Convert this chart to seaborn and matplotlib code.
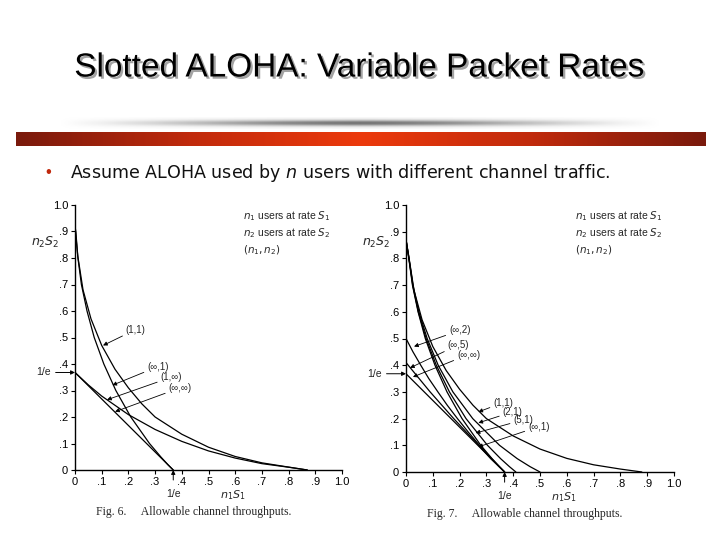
"""
Slotted ALOHA: variable packet rates (two throughput figures on one slide).
"""

import numpy as np
import matplotlib
matplotlib.use("Agg")
import matplotlib.pyplot as plt
import matplotlib.patheffects as pe
from matplotlib.colors import LinearSegmentedColormap
import seaborn as sns

# ---- data ----
# Fig. 6
f6_11_x = [0.0, 0.01, 0.03, 0.06, 0.10, 0.15, 0.20, 0.25, 0.30, 0.40, 0.50, 0.60, 0.70, 0.80, 0.87]
f6_11_y = [0.92, 0.81, 0.68, 0.57, 0.47, 0.38, 0.31, 0.25, 0.20, 0.135, 0.086, 0.051, 0.027, 0.011, 0.0]
f6_inf1_x = [0.0, 0.003, 0.011, 0.024, 0.045, 0.072, 0.108, 0.153, 0.209, 0.279, 0.321, 0.348, 0.368]
f6_inf1_y = [0.92, 0.90, 0.80, 0.70, 0.60, 0.50, 0.40, 0.30, 0.20, 0.10, 0.05, 0.02, 0.0]
f6_1inf_x = [0.0, 0.05, 0.10, 0.20, 0.30, 0.40, 0.50, 0.60, 0.70, 0.80, 0.87]
f6_1inf_y = [0.368, 0.321, 0.279, 0.209, 0.153, 0.108, 0.072, 0.045, 0.024, 0.0105, 0.0]
infinf_x = [0.0, 0.368]
infinf_y = [0.368, 0.0]

# Fig. 7
f7_11_x = [0.0, 0.01, 0.03, 0.06, 0.10, 0.15, 0.20, 0.25, 0.30, 0.40, 0.50, 0.60, 0.70, 0.80, 0.88]
f7_11_y = [0.87, 0.81, 0.68, 0.57, 0.47, 0.38, 0.31, 0.25, 0.20, 0.135, 0.086, 0.051, 0.027, 0.011, 0.0]
f7_grid_y = [0.87, 0.80, 0.70, 0.60, 0.50, 0.40, 0.30, 0.20, 0.10, 0.05, 0.02, 0.0]
f7_21_x = [0.0, 0.011, 0.026, 0.048, 0.079, 0.120, 0.175, 0.249, 0.349, 0.415, 0.463, 0.50]
f7_51_x = [0.0, 0.011, 0.025, 0.046, 0.075, 0.113, 0.162, 0.224, 0.304, 0.353, 0.386, 0.41]
f7_inf1_x = [0.0, 0.0105, 0.024, 0.045, 0.072, 0.108, 0.153, 0.209, 0.279, 0.321, 0.348, 0.368]
f7_inf2_x = [0.0, 0.026, 0.055, 0.085, 0.119, 0.154, 0.192, 0.232, 0.274, 0.32, 0.368]
f7_inf2_y = [0.5, 0.45, 0.40, 0.35, 0.30, 0.25, 0.20, 0.15, 0.10, 0.05, 0.0]
f7_inf5_x = [0.0, 0.049, 0.09, 0.178, 0.271, 0.316, 0.368]
f7_inf5_y = [0.41, 0.35, 0.30, 0.20, 0.10, 0.05, 0.0]

tick_vals = [0, 0.1, 0.2, 0.3, 0.4, 0.5, 0.6, 0.7, 0.8, 0.9, 1.0]
tick_text = ["0", ".1", ".2", ".3", ".4", ".5", ".6", ".7", ".8", ".9", "1.0"]

sns.set_style("white")
plt.rcParams["font.family"] = ["Liberation Sans", "DejaVu Sans"]

W, H = 720, 540
fig = plt.figure(figsize=(7.2, 5.4), dpi=100)


def px(x, y):
    return x / W, 1 - y / H


# ---- slide header ----
tx, ty = px(359, 68)
fig.text(tx, ty, "Slotted ALOHA: Variable Packet Rates", ha="center", va="center",
         fontsize=24, color="black",
         path_effects=[pe.withSimplePatchShadow(offset=(1.6, -1.6), shadow_rgbFace="#8c8c8c", alpha=0.8)])

# gray shadow band
ax_sh = fig.add_axes([60 / W, 1 - 129 / H, 600 / W, 12 / H])
u = np.linspace(-1, 1, 300)
v = np.linspace(-1, 1, 20)
shade = np.outer(np.exp(-(v * 1.6) ** 2), 1 - np.abs(u) ** 1.5)
ax_sh.imshow(shade, cmap="Greys", vmin=0, vmax=1.6, aspect="auto")
ax_sh.axis("off")

# red gradient bar
red_cmap = LinearSegmentedColormap.from_list("bar", ["#7a1a0c", "#c02a0c", "#ec3a0c", "#c02a0c", "#7a1a0c"])
ax_bar = fig.add_axes([16 / W, 1 - 146 / H, 690 / W, 14 / H])
ax_bar.imshow(np.tile(np.linspace(0, 1, 400), (10, 1)), cmap=red_cmap, aspect="auto")
ax_bar.axis("off")

bx, by = px(48, 173)
fig.text(bx, by, "\u2022", color="#c0280c", fontsize=12, ha="center", va="center")
fig.text(px(70, 173)[0], by, "Assume ALOHA used by $\\it{n}$ users with different channel traffic.",
         fontsize=12.6, va="center", ha="left", color="#111111", family=["DejaVu Sans"])


def make_axes(x0, x1, y0, y1):
    ax = fig.add_axes([x0 / W, 1 - y0 / H, (x1 - x0) / W, (y0 - y1) / H])
    ax.set_xlim(0, 1.0)
    ax.set_ylim(0, 1.0)
    ax.patch.set_alpha(0)
    for s in ["top", "right"]:
        ax.spines[s].set_visible(False)
    for s in ["left", "bottom"]:
        ax.spines[s].set_color("black")
        ax.spines[s].set_linewidth(1.0)
    ax.set_xticks(tick_vals)
    ax.set_xticklabels(tick_text)
    ax.set_yticks(tick_vals)
    ax.set_yticklabels(tick_text)
    ax.tick_params(direction="out", length=3, width=0.8, labelsize=8, colors="black", pad=2,
                   left=True, bottom=True)
    return ax


def curve(ax, xs, ys):
    sns.lineplot(x=xs, y=ys, ax=ax, color="black", linewidth=0.9, sort=False, estimator=None)


def label(ax, txt, xy_text, xy_head):
    ax.annotate(txt, xy=xy_head, xytext=xy_text, fontsize=7, ha="left", va="center",
                arrowprops=dict(arrowstyle="-|>", color="black", lw=0.6, mutation_scale=6,
                                shrinkA=0, shrinkB=0))


def common(ax, fig_no):
    ax.text(0.63, 0.985, "$n_1$ users at rate $S_1$\n$n_2$ users at rate $S_2$\n$(n_1, n_2)$",
            fontsize=7.5, va="top", ha="left", linespacing=1.35)
    ax.text(-0.11, 0.86, "$n_2S_2$", fontsize=9, ha="center", va="center")
    ax.text(0.59, -0.094, "$n_1S_1$", fontsize=8, ha="center", va="center")
    ax.annotate("1/e", xy=(0.368, 0.0), xytext=(0.368, -0.09), fontsize=7.5, ha="center", va="center",
                annotation_clip=False,
                arrowprops=dict(arrowstyle="-|>", color="black", lw=0.7, mutation_scale=6,
                                shrinkA=4, shrinkB=0))
    ax.annotate("1/e", xy=(0.0, 0.368), xytext=(-0.09, 0.368), fontsize=7.5, ha="right", va="center",
                annotation_clip=False,
                arrowprops=dict(arrowstyle="-|>", color="black", lw=0.7, mutation_scale=6,
                                shrinkA=1, shrinkB=0))
    ax.text(0.08, -0.157, f"Fig. {fig_no}.     Allowable channel throughputs.", fontsize=8.5,
            family=["Liberation Serif"], ha="left", va="center", transform=ax.transData)


# ---- Fig. 6 ----
ax6 = make_axes(75, 342, 470, 205)
curve(ax6, f6_11_x, f6_11_y)
curve(ax6, f6_inf1_x, f6_inf1_y)
curve(ax6, f6_1inf_x, f6_1inf_y)
curve(ax6, infinf_x, infinf_y)
label(ax6, "(1,1)", (0.19, 0.53), (0.105, 0.47))
label(ax6, "(\u221e,1)", (0.27, 0.39), (0.14, 0.32))
label(ax6, "(1,\u221e)", (0.32, 0.35), (0.12, 0.265))
label(ax6, "(\u221e,\u221e)", (0.35, 0.31), (0.15, 0.22))
common(ax6, 6)

# ---- Fig. 7 ----
ax7 = make_axes(406, 674, 472, 205)
curve(ax7, f7_11_x, f7_11_y)
curve(ax7, f7_21_x, f7_grid_y)
curve(ax7, f7_51_x, f7_grid_y)
curve(ax7, f7_inf1_x, f7_grid_y)
curve(ax7, f7_inf2_x, f7_inf2_y)
curve(ax7, f7_inf5_x, f7_inf5_y)
curve(ax7, infinf_x, infinf_y)
label(ax7, "(\u221e,2)", (0.16, 0.53), (0.03, 0.47))
label(ax7, "(\u221e,5)", (0.155, 0.476), (0.015, 0.39))
label(ax7, "(\u221e,\u221e)", (0.19, 0.44), (0.026, 0.356))
label(ax7, "(1,1)", (0.325, 0.26), (0.27, 0.225))
label(ax7, "(2,1)", (0.36, 0.225), (0.27, 0.184))
label(ax7, "(5,1)", (0.40, 0.195), (0.26, 0.146))
label(ax7, "(\u221e,1)", (0.455, 0.17), (0.27, 0.094))
common(ax7, 7)

fig.savefig("out.png", dpi=100)
